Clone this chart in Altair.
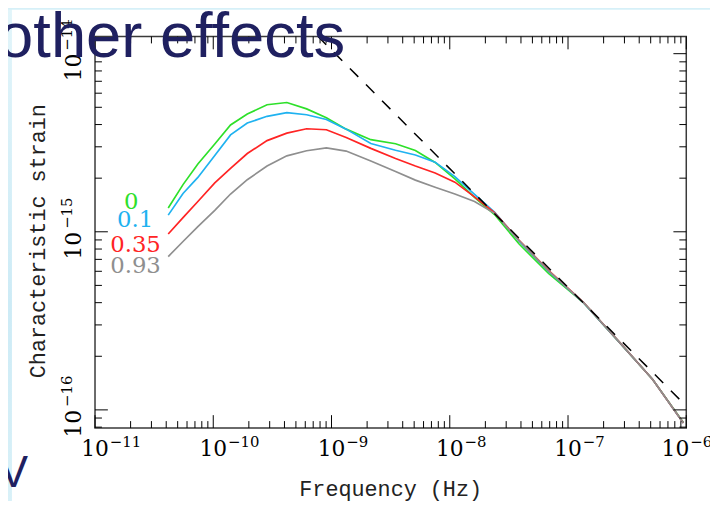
import altair as alt
import pandas as pd

# ---------------- data ----------------
freq = [4.16e-11, 5.55e-11, 7.41e-11, 1.03e-10, 1.40e-10, 1.94e-10, 2.85e-10,
        4.19e-10, 6.16e-10, 9.05e-10, 1.33e-9, 2.15e-9, 3.48e-9, 5.12e-9,
        7.52e-9, 1.105e-8, 1.62e-8, 2.39e-8, 3.86e-8, 6.88e-8, 1.35e-7,
        2.65e-7, 5.20e-7, 9.45e-7]

h_e0 = [1.36e-15, 1.84e-15, 2.40e-15, 3.11e-15, 3.98e-15, 4.58e-15, 5.17e-15,
        5.32e-15, 4.90e-15, 4.37e-15, 3.77e-15, 3.29e-15, 3.12e-15, 2.86e-15,
        2.45e-15, 1.98e-15, 1.56e-15, 1.25e-15, 8.54e-16, 5.82e-16, 4.00e-16,
        2.44e-16, 1.48e-16, 8.50e-17]
h_e01 = [1.24e-15, 1.64e-15, 2.02e-15, 2.68e-15, 3.50e-15, 4.08e-15, 4.45e-15,
         4.67e-15, 4.54e-15, 4.27e-15, 3.77e-15, 3.13e-15, 2.87e-15, 2.70e-15,
         2.46e-15, 2.04e-15, 1.62e-15, 1.29e-15, 8.85e-16, 5.98e-16, 4.00e-16,
         2.44e-16, 1.48e-16, 8.45e-17]
h_e035 = [9.71e-16, 1.20e-15, 1.48e-15, 1.88e-15, 2.27e-15, 2.75e-15, 3.25e-15,
          3.58e-15, 3.79e-15, 3.74e-15, 3.38e-15, 2.94e-15, 2.58e-15, 2.34e-15,
          2.14e-15, 1.90e-15, 1.57e-15, 1.28e-15, 8.95e-16, 6.05e-16, 4.02e-16,
          2.45e-16, 1.48e-16, 8.45e-17]
h_e093 = [7.26e-16, 8.82e-16, 1.07e-15, 1.32e-15, 1.63e-15, 1.96e-15, 2.34e-15,
          2.67e-15, 2.85e-15, 2.96e-15, 2.84e-15, 2.50e-15, 2.18e-15, 1.95e-15,
          1.78e-15, 1.63e-15, 1.48e-15, 1.27e-15, 8.92e-16, 6.02e-16, 4.02e-16,
          2.45e-16, 1.48e-16, 8.44e-17]

series_names = ["0", "0.1", "0.35", "0.93"]
series_colors = ["#2ee02a", "#1fb2f0", "#ff2424", "#8f8f8f"]
series_values = [h_e0, h_e01, h_e035, h_e093]

# labels next to the curves
label_f = [2.02e-11, 2.18e-11, 2.20e-11, 2.20e-11]
label_h = [1.35e-15, 1.07e-15, 7.74e-16, 5.90e-16]

# dashed power-law reference line (end points)
dash_f = [3.0e-10, 1.0e-6]
dash_h = [2.34e-14, 1.05e-16]

x_major = [1e-11, 1e-10, 1e-9, 1e-8, 1e-7, 1e-6]
x_exp = ["\u221211", "\u221210", "\u22129", "\u22128", "\u22127", "\u22126"]
y_major = [1e-16, 1e-15, 1e-14]
y_exp = ["\u221216", "\u221215", "\u221214"]

X_DOMAIN = [1e-11, 1e-6]
Y_DOMAIN = [7.91e-17, 1.249e-14]

x_minor = [m * 10.0 ** e for e in range(-11, -6) for m in range(2, 10)]
y_minor = [m * 10.0 ** e for e in (-17, -16, -15) for m in range(2, 10)
           if Y_DOMAIN[0] <= m * 10.0 ** e <= Y_DOMAIN[1]]

# ---------------- layout ----------------
W, H = 598, 396
MAJ, MIN = 13, 7
SERIF = "DejaVu Serif"
MONO = "Liberation Mono"

xs = alt.Scale(type="log", domain=X_DOMAIN, nice=False)
ys = alt.Scale(type="log", domain=Y_DOMAIN, nice=False)
one = pd.DataFrame({"a": [0]})

layers = []

# slide background showing at the left edge
left_grad = alt.Gradient(gradient="linear", x1=0, x2=0, y1=0, y2=1,
                         stops=[alt.GradientStop(color="#e2f5fa", offset=0),
                                alt.GradientStop(color="#cdebf6", offset=0.6),
                                alt.GradientStop(color="#d9f1f8", offset=1)])
layers.append(alt.Chart(one).mark_rect(fill=left_grad).encode(
    x=alt.value(-96), x2=alt.value(-84), y=alt.value(-34), y2=alt.value(H + 80)))
layers.append(alt.Chart(one).mark_rect(fill="#d6f0f8").encode(
    x=alt.value(-96), x2=alt.value(W + 30), y=alt.value(-34), y2=alt.value(-27)))

# plot frame
layers.append(alt.Chart(one).mark_rect(filled=False, stroke="#3a3a3a", strokeWidth=1.5).encode(
    x=alt.value(0), x2=alt.value(W), y=alt.value(0), y2=alt.value(H)))

# curves
for name, col, vals in zip(series_names, series_colors, series_values):
    df = pd.DataFrame({"f": freq, "h": vals})
    layers.append(alt.Chart(df).mark_line(color=col, strokeWidth=1.7, clip=True).encode(
        x=alt.X("f:Q", scale=xs, axis=None),
        y=alt.Y("h:Q", scale=ys, axis=None)))

# dashed line
layers.append(alt.Chart(pd.DataFrame({"f": dash_f, "h": dash_h})).mark_line(
    color="black", strokeWidth=1.5, strokeDash=[12, 11], clip=True).encode(
    x=alt.X("f:Q", scale=xs, axis=None),
    y=alt.Y("h:Q", scale=ys, axis=None)))

# inward ticks on all four sides
def xticks(vals, length):
    d = pd.DataFrame({"v": vals})
    enc = dict(x=alt.X("v:Q", scale=xs, axis=None))
    return [alt.Chart(d).mark_rule(color="black", strokeWidth=1).encode(
                y=alt.value(H), y2=alt.value(H - length), **enc),
            alt.Chart(d).mark_rule(color="black", strokeWidth=1).encode(
                y=alt.value(0), y2=alt.value(length), **enc)]

def yticks(vals, length):
    d = pd.DataFrame({"v": vals})
    enc = dict(y=alt.Y("v:Q", scale=ys, axis=None))
    return [alt.Chart(d).mark_rule(color="black", strokeWidth=1).encode(
                x=alt.value(0), x2=alt.value(length), **enc),
            alt.Chart(d).mark_rule(color="black", strokeWidth=1).encode(
                x=alt.value(W), x2=alt.value(W - length), **enc)]

layers += xticks(x_major, MAJ) + xticks(x_minor, MIN)
layers += yticks(y_major, MAJ) + yticks(y_minor, MIN)

# x tick labels (the last one is kept inside, as in the reference)
xl = pd.DataFrame({"v": x_major[:-1], "e": x_exp[:-1]})
xl_last = pd.DataFrame({"v": x_major[-1:], "e": x_exp[-1:]})
layers.append(alt.Chart(xl).mark_text(text="10", font=SERIF, fontSize=22, color="black",
                                      align="center", baseline="alphabetic").encode(
    x=alt.X("v:Q", scale=xs, axis=None), y=alt.value(H + 28)))
layers.append(alt.Chart(xl).mark_text(font=SERIF, fontSize=15, color="black",
                                      align="left", baseline="alphabetic", dx=15).encode(
    x=alt.X("v:Q", scale=xs, axis=None), y=alt.value(H + 19), text="e:N"))
layers.append(alt.Chart(xl_last).mark_text(text="10", font=SERIF, fontSize=22, color="black",
                                           align="right", baseline="alphabetic", dx=3).encode(
    x=alt.X("v:Q", scale=xs, axis=None), y=alt.value(H + 28)))
layers.append(alt.Chart(xl_last).mark_text(font=SERIF, fontSize=15, color="black",
                                           align="left", baseline="alphabetic", dx=4).encode(
    x=alt.X("v:Q", scale=xs, axis=None), y=alt.value(H + 19), text="e:N"))

# y tick labels
yl = pd.DataFrame({"v": y_major, "e": y_exp})
layers.append(alt.Chart(yl).mark_text(text="10", font=SERIF, fontSize=22, color="black",
                                      align="right", baseline="alphabetic",
                                      angle=270).encode(
    y=alt.Y("v:Q", scale=ys, axis=None), x=alt.value(-14.3)))
layers.append(alt.Chart(yl).mark_text(font=SERIF, fontSize=15, color="black",
                                      align="left", baseline="alphabetic",
                                      angle=270, dx=3).encode(
    y=alt.Y("v:Q", scale=ys, axis=None), x=alt.value(-23.3), text="e:N"))

# axis titles
layers.append(alt.Chart(one).mark_text(text="Frequency (Hz)", font=MONO, fontSize=22,
                                       color="#222222", align="center",
                                       baseline="alphabetic").encode(
    x=alt.value(W / 2), y=alt.value(H + 69)))
layers.append(alt.Chart(one).mark_text(text="Characteristic strain", font=MONO, fontSize=22,
                                       color="#222222", align="center",
                                       baseline="alphabetic", angle=270).encode(
    x=alt.value(-51), y=alt.value(207)))

# curve labels
ld = pd.DataFrame({"f": label_f, "h": label_h, "t": series_names, "c": series_colors})
layers.append(alt.Chart(ld).mark_text(font=SERIF, fontSize=23, align="center",
                                      baseline="alphabetic").encode(
    x=alt.X("f:Q", scale=xs, axis=None),
    y=alt.Y("h:Q", scale=ys, axis=None),
    text="t:N", color=alt.Color("c:N", scale=None)))

# slide text overlapping the picture
layers.append(alt.Chart(one).mark_text(text="V", font="Liberation Sans", fontSize=44,
                                       color="#1f2060", align="left",
                                       baseline="alphabetic").encode(
    x=alt.value(-97), y=alt.value(456)))
layers.append(alt.Chart(one).mark_text(text="other effects", font="Liberation Sans",
                                       fontSize=64, color="#1f2060", align="left",
                                       baseline="alphabetic").encode(
    x=alt.value(-98), y=alt.value(21)))

chart = alt.layer(*layers).properties(
    width=W, height=H,
    autosize=alt.AutoSizeParams(type="none"),
    padding={"left": 88, "top": 26, "right": 24, "bottom": 71},
    background="white",
).configure_view(stroke="transparent")

chart.save("out.html", embed_options={"renderer": "svg", "actions": False})
